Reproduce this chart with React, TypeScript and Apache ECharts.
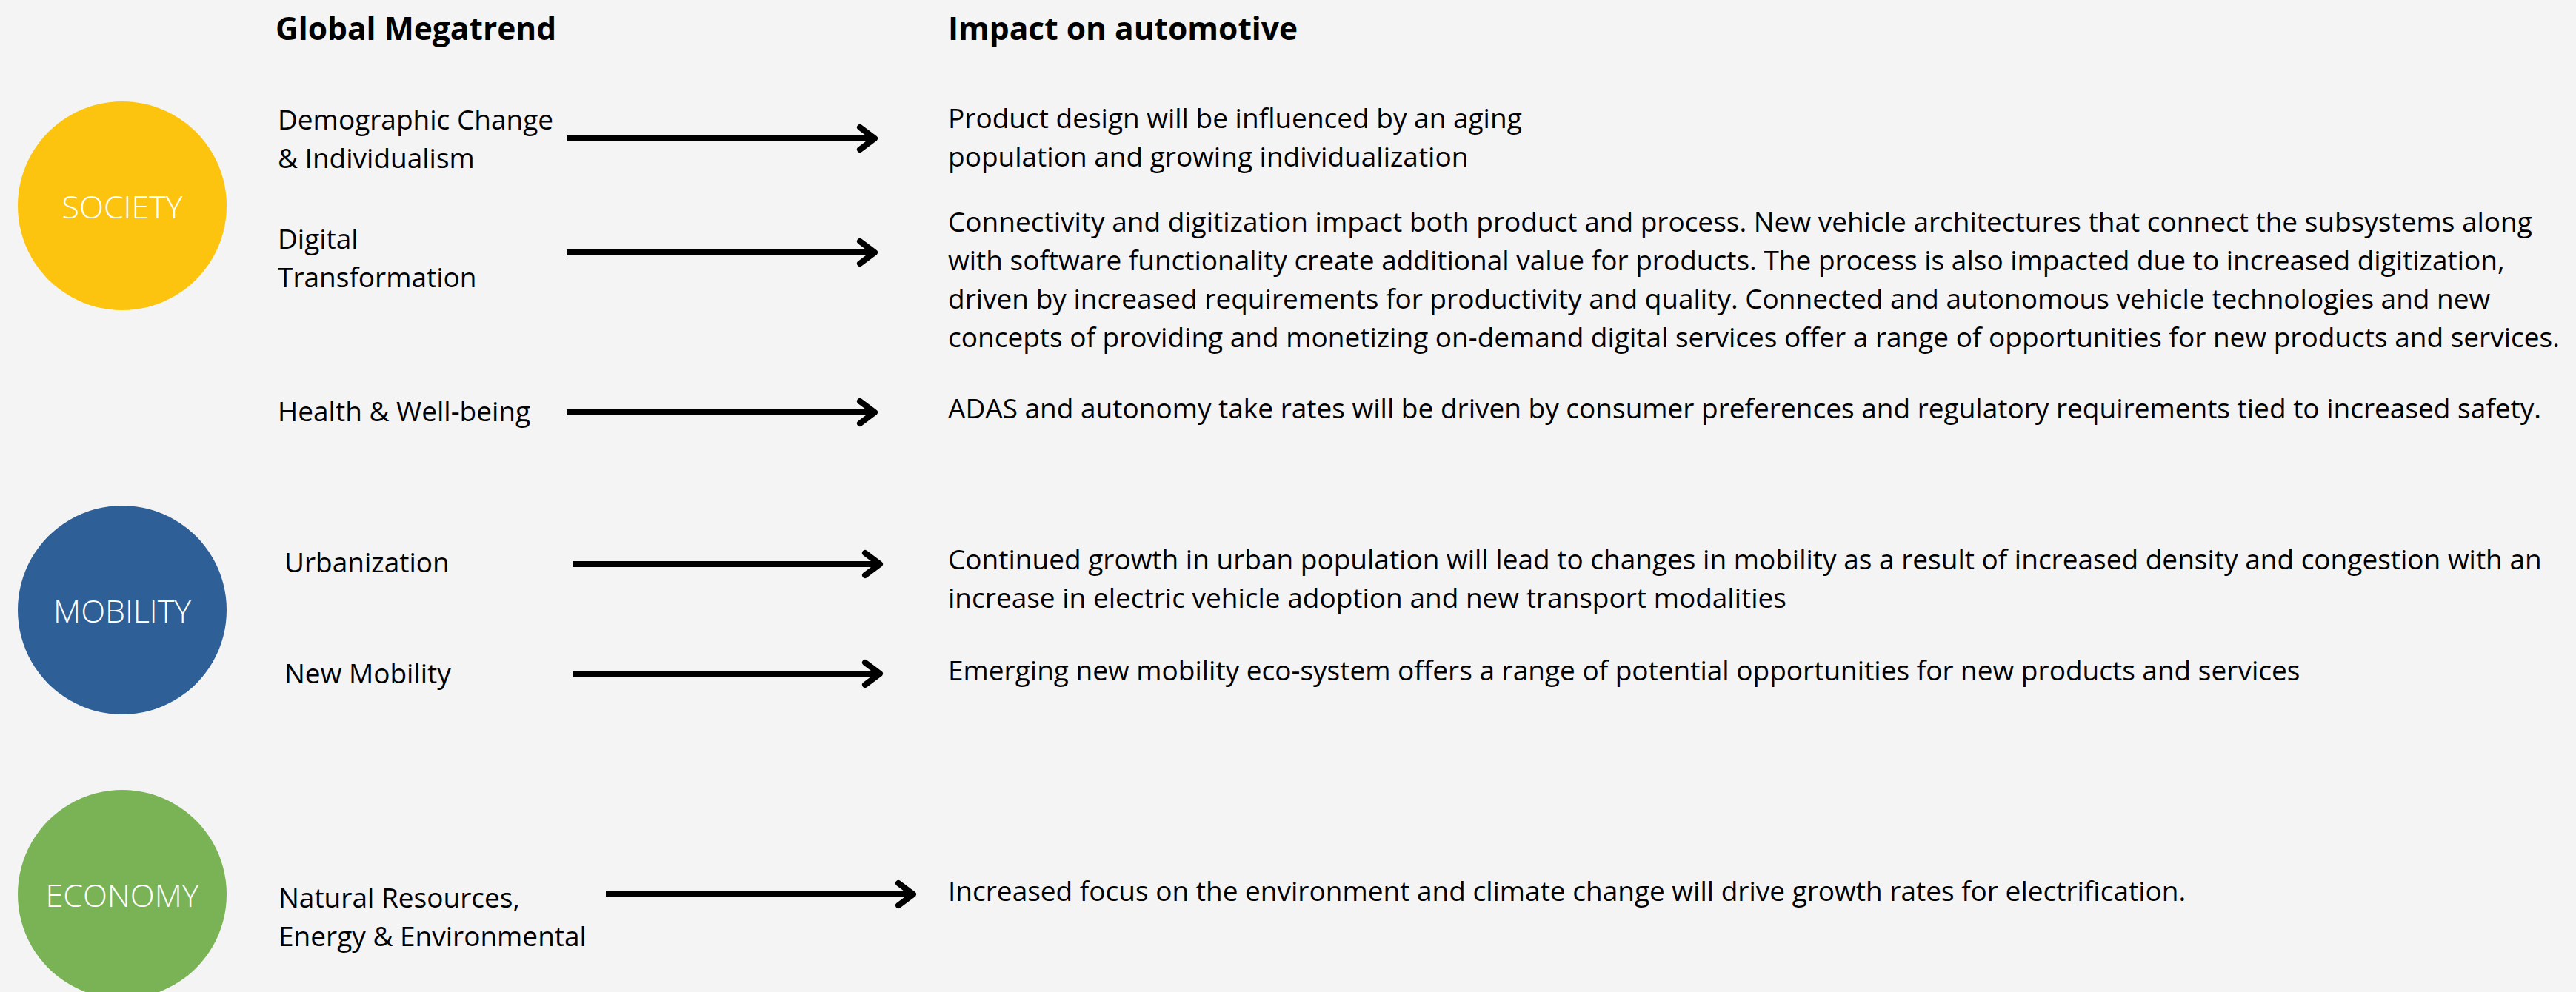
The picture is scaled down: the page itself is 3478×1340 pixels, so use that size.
import React, { useEffect, useRef } from "react";
import * as echarts from "echarts";

// ---- content ----
const categories = ["SOCIETY", "MOBILITY", "ECONOMY"];
const headers = ["Global Megatrend", "Impact on automotive"];
const megatrends: string[][] = [
  ["Demographic Change", "& Individualism"],
  ["Digital", "Transformation"],
  ["Health & Well-being"],
  ["Urbanization"],
  ["New Mobility"],
  ["Natural Resources,", "Energy & Environmental"],
];
const impacts: string[][] = [
  ["Product design will be influenced by an aging", "population and growing individualization"],
  [
    "Connectivity and digitization impact both product and process. New vehicle architectures that connect the subsystems along",
    "with software functionality create additional value for products. The process is also impacted due to increased digitization,",
    "driven by increased requirements for productivity and quality. Connected and autonomous vehicle technologies and new",
    "concepts of providing and monetizing on-demand digital services offer a range of opportunities for new products and services.",
  ],
  ["ADAS and autonomy take rates will be driven by consumer preferences and regulatory requirements tied to increased safety."],
  [
    "Continued growth in urban population will lead to changes in mobility as a result of increased density and congestion with an",
    "increase in electric vehicle adoption and new transport modalities",
  ],
  ["Emerging new mobility eco-system offers a range of potential opportunities for new products and services"],
  ["Increased focus on the environment and climate change will drive growth rates for electrification."],
];

// ---- layout & style ----
const W = 3478;
const H = 1340;
const FONT = '"Open Sans", "Noto Sans", sans-serif';
const BODY_SIZE = 37;
const HEADER_SIZE = 42.5;
const LABEL_SIZE = 43;
const LINE_H = 52;
const BASE_K = 0.36;
const categoryColors = ["#FCC40F", "#2E5F96", "#7AB356"];
const circleCx = 165;
const circleCy = [278, 824, 1208];
const circleR = 141;
const headerX = [372, 1280];
const headerBaseline = 53;
const megatrendX = [375, 375, 375, 384, 384, 376];
const megatrendBaseline = [174, 335, 568, 772, 922, 1225];
const impactX = 1280;
const impactBaseline = [172, 312, 564, 768, 918, 1216];
const arrowX1 = [765, 765, 765, 773, 773, 818];
const arrowX2 = [1181, 1181, 1181, 1188, 1188, 1233];
const arrowY = [187, 341, 557, 762, 910, 1208];

function textAt(text: string, x: number, baseline: number, size: number, weight: any, fill: string, align = "left") {
  return {
    type: "text",
    x,
    y: baseline - BASE_K * size,
    silent: true,
    style: {
      text,
      fill,
      font: `${weight} ${size}px ${FONT}`,
      align,
      verticalAlign: "middle",
    },
  };
}

export default function App() {
  const ref = useRef<HTMLDivElement>(null);
  useEffect(() => {
    if (!ref.current) return;
    const chart = echarts.init(ref.current, null, { renderer: "svg", width: W, height: H });
    const elements: any[] = [];

    categories.forEach((c, i) => {
      elements.push({
        type: "circle",
        shape: { cx: circleCx, cy: circleCy[i], r: circleR },
        style: { fill: categoryColors[i] },
        silent: true,
      });
      elements.push({
        type: "text",
        x: circleCx,
        y: circleCy[i],
        silent: true,
        style: {
          text: c,
          fill: "#ffffff",
          font: `300 ${LABEL_SIZE}px ${FONT}`,
          align: "center",
          verticalAlign: "middle",
        },
      });
    });

    headers.forEach((h, i) => {
      elements.push(textAt(h, headerX[i], headerBaseline, HEADER_SIZE, "bold", "#000000"));
    });

    megatrends.forEach((lines, i) => {
      lines.forEach((l, j) => {
        elements.push(textAt(l, megatrendX[i], megatrendBaseline[i] + j * LINE_H, BODY_SIZE, "normal", "#000000"));
      });
    });

    impacts.forEach((lines, i) => {
      lines.forEach((l, j) => {
        elements.push(textAt(l, impactX, impactBaseline[i] + j * LINE_H, BODY_SIZE, "normal", "#000000"));
      });
    });

    arrowY.forEach((y, i) => {
      const x1 = arrowX1[i];
      const x2 = arrowX2[i];
      elements.push({
        type: "line",
        shape: { x1, y1: y, x2: x2 - 3, y2: y },
        style: { stroke: "#000000", lineWidth: 8 },
        silent: true,
      });
      elements.push({
        type: "polyline",
        shape: { points: [[x2 - 20, y - 15], [x2, y], [x2 - 20, y + 15]] },
        style: { stroke: "#000000", lineWidth: 8, lineCap: "round", lineJoin: "round", fill: "none" },
        silent: true,
      });
    });

    chart.setOption({
      animation: false,
      backgroundColor: "#F4F4F4",
      graphic: { elements },
    });
    return () => chart.dispose();
  }, []);
  return <div ref={ref} style={{ position: "fixed", left: 0, top: 0, width: W, height: H }} />;
}
